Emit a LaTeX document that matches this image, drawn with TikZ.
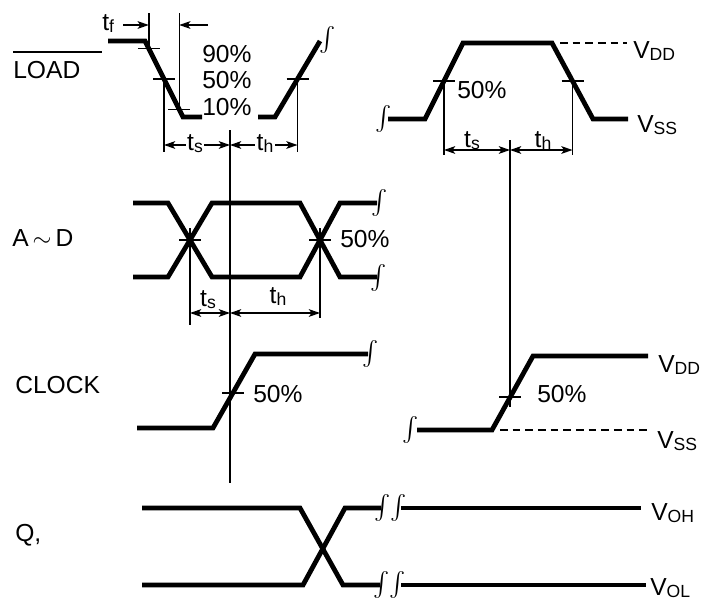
\documentclass[tikz,border=0pt]{standalone}
\usepackage{exscale}
\usepackage{fontspec}
\setmainfont{Liberation Sans}
\usetikzlibrary{arrows.meta}

\newcommand{\lowsub}[1]{\raisebox{-1.5pt}{\fontsize{12.5}{13}\selectfont #1}}

\begin{document}
\begin{tikzpicture}[
  x=0.025cm, y=-0.025cm,
  wSig/.style={line width=3.4pt},
  wThin/.style={line width=1pt},
  wDash/.style={line width=1.3pt, dash pattern=on 5.5pt off 3.5pt},
  wDim/.style={wThin,
    {Stealth[length=8pt,width=5.5pt,inset=2pt]}-{Stealth[length=8pt,width=5.5pt,inset=2pt]}},
  wArr/.style={wThin, -{Stealth[length=8pt,width=5.5pt,inset=2pt]}},
  wLbl/.style={font=\fontsize{17.5}{20}\selectfont, inner sep=0pt, anchor=base west},
  wDimLbl/.style={font=\fontsize{17.5}{20}\selectfont, inner sep=0pt, anchor=base},
  wBrk/.style={font=\fontsize{17}{17}\selectfont, inner sep=0pt},
]
  \useasboundingbox (0,0) rectangle (708,600);

  %% ── LOAD, left edge pair ────────────────────────────────────
  \node[wLbl] (ldTxt) at (13,78) {LOAD};
  \draw[wThin] (13,52) -- (102,52);
  \draw[wSig] (108,41) -- (145,41) -- (183,117) -- (202,117);
  \draw[wSig] (258,117) -- (275,117) -- (320,41);
  \node[wBrk] (ldBrk) at (328,40) {$\int$};

  \node[wLbl] (tf) at (102,30) {t\lowsub{f}};
  \draw[wThin] (148.8,13) -- (148.8,48.6);
  \draw[wThin] (179.2,13) -- (179.2,109.4);
  \draw[wArr] (123,25) -- (148.8,25);
  \draw[wArr] (208,25) -- (179.2,25);

  \node[wLbl] (p90) at (202,62)  {90\%};
  \node[wLbl] (p50) at (202,88)  {50\%};
  \node[wLbl] (p10) at (202,115) {10\%};

  \draw[wThin] (164,79) -- (164,152);
  \draw[wThin] (297.5,79) -- (297.5,152);
  \draw[wDim] (164,145) -- (230,145);
  \draw[wDim] (230,145) -- (297.5,145);
  \node[wDimLbl, fill=white, inner sep=1pt] (ts1) at (195,150) {t\lowsub{s}};
  \node[wDimLbl, fill=white, inner sep=1pt] (th1) at (265,150) {t\lowsub{h}};

  %% ── LOAD, right pulse ───────────────────────────────────────
  \node[wBrk] (rBrk) at (384,119) {$\int$};
  \draw[wSig] (388,119) -- (425,119) -- (463,43) -- (552,43) -- (593,119) -- (628,119);
  \draw[wDash] (560,43) -- (627,43);
  \node[wLbl] (vdd1) at (633,58)  {V\lowsub{DD}};
  \node[wLbl] (vss1) at (637,132) {V\lowsub{SS}};
  \node[wLbl] (p50r) at (457,98)  {50\%};

  \draw[wThin] (444,81) -- (444,155);
  \draw[wThin] (572.5,81) -- (572.5,155);
  \draw[wDim] (444,150) -- (510,150);
  \draw[wDim] (510,150) -- (572.5,150);
  \node[wDimLbl] (ts2) at (472,147) {t\lowsub{s}};
  \node[wDimLbl] (th2) at (543,147) {t\lowsub{h}};

  %% ── A~D ─────────────────────────────────────────────────────
  \node[wLbl] (adTxt) at (12,246) {A$\,\sim\,$D};
  \draw[wSig] (133,203) -- (168,203) -- (212,277) -- (300,277) -- (340,203) -- (377,203);
  \draw[wSig] (133,277) -- (168,277) -- (212,203) -- (300,203) -- (340,277) -- (377,277);
  \node[wBrk] (adBrkA) at (380,203) {$\int$};
  \node[wBrk] (adBrkB) at (379,278) {$\int$};
  \node[wLbl] (p50ad) at (340,247) {50\%};

  \draw[wThin] (190,228) -- (190,325);
  \draw[wThin] (320,228) -- (320,318);
  \draw[wDim] (190,313) -- (230,313);
  \draw[wDim] (230,313) -- (320,313);
  \node[wDimLbl] (ts3) at (208,306) {t\lowsub{s}};
  \node[wDimLbl] (th3) at (278,303) {t\lowsub{h}};

  %% ── CLOCK ───────────────────────────────────────────────────
  \node[wLbl] (ckTxt) at (15,393) {CLOCK};
  \draw[wSig] (137,428) -- (213,428) -- (255,354) -- (368,354);
  \node[wBrk] (ckBrkA) at (371,354) {$\int$};
  \node[wLbl] (p50ck) at (253,402) {50\%};

  \node[wBrk] (ckBrkB) at (411,430) {$\int$};
  \draw[wSig] (417,430) -- (492,430) -- (533,356) -- (648,356);
  \draw[wDash] (500,430) -- (648,430);
  \node[wLbl] (vdd2) at (658,372) {V\lowsub{DD}};
  \node[wLbl] (vss2) at (657,448) {V\lowsub{SS}};
  \node[wLbl] (p50ckr) at (537,402) {50\%};

  %% ── reference verticals ─────────────────────────────────────
  \draw[wThin] (230,130) -- (230,483);
  \draw[wThin] (510,140) -- (510,407);

  %% ── Q outputs ───────────────────────────────────────────────
  \node[wLbl] (qTxt) at (15,541) {Q,};
  \draw[wSig] (142,508) -- (300,508) -- (343,585) -- (380,585);
  \draw[wSig] (401,585) -- (646,585);
  \draw[wSig] (142,585) -- (303,585) -- (345,508) -- (381,508);
  \draw[wSig] (401,508) -- (641,508);
  \node[wBrk] (qBrkA) at (391,508) {$\int\!\int$};
  \node[wBrk] (qBrkB) at (390,585) {$\int\!\int$};
  \node[wLbl] (voh) at (651,520) {V\lowsub{OH}};
  \node[wLbl] (vol) at (650,595) {V\lowsub{OL}};

  %% ── 50% tick marks ──────────────────────────────────────────
  \foreach \px/\py in {148.8/48.6, 164/79, 179.2/109.4, 297.5/79, 444/81,
                       572.5/81, 190/240, 320/240, 233/393, 510/397}
    \draw[wThin] ({\px-11},\py) -- ({\px+11},\py);

\end{tikzpicture}
\end{document}
